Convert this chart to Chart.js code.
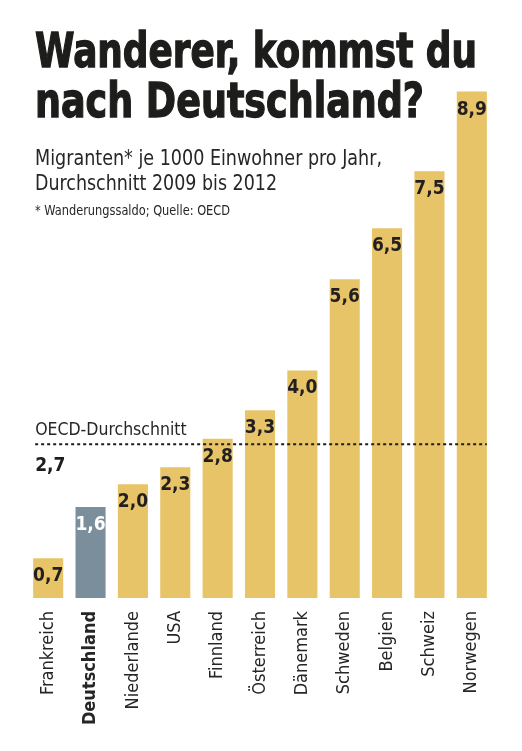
<!DOCTYPE html>
<html lang="de">
<head>
<meta charset="utf-8">
<title>Wanderer, kommst du nach Deutschland?</title>
<script src="https://cdn.jsdelivr.net/npm/chart.js@4.4.1/dist/chart.umd.min.js"></script>
<style>
    html, body { margin: 0; padding: 0; background: #fff; }
    #wrap { position: relative; width: 522px; height: 751px; overflow: hidden; }
    #chart { position: absolute; left: 0; top: 0; }
    .txt { position: absolute; left: 35px; white-space: nowrap; transform-origin: 0 0; color: #1d1d1b; line-height: 1; z-index: 2; }
    .title { font-weight: bold; font-size: 48px; -webkit-text-stroke: 1.3px #1d1d1b; }
    .sub { font-size: 22px; color: #262626; }
    .foot { font-size: 14px; color: #262626; }
</style>
</head>
<body>
<div id="wrap">
    <canvas id="chart" width="522" height="751"></canvas>
    <div class="txt title" data-base="67" data-w="442">Wanderer, kommst du</div>
    <div class="txt title" data-base="117" data-w="389">nach Deutschland?</div>
    <div class="txt sub" data-base="165" data-w="347">Migranten* je 1000 Einwohner pro Jahr,</div>
    <div class="txt sub" data-base="190" data-w="242">Durchschnitt 2009 bis 2012</div>
    <div class="txt foot" data-base="215" data-w="195">* Wanderungssaldo; Quelle: OECD</div>
</div>
<script>
// Data
const countries = ['Frankreich', 'Deutschland', 'Niederlande', 'USA', 'Finnland', 'Österreich',
    'Dänemark', 'Schweden', 'Belgien', 'Schweiz', 'Norwegen'];
const migrants = [0.7, 1.6, 2.0, 2.3, 2.8, 3.3, 4.0, 5.6, 6.5, 7.5, 8.9];
const highlight = 'Deutschland';
const oecdAverage = 2.7;
const oecdLabel = 'OECD-Durchschnitt';

// Colours
const gold = '#e8c468';
const slate = '#7a8e9c';
const ink = '#1d1d1b';

// Font check (pick a narrow face if the system has one)
function hasFont(name) {
    const c = document.createElement('canvas').getContext('2d');
    const probe = 'Wanderer kommst 0123';
    c.font = '40px monospace';
    const w0 = c.measureText(probe).width;
    c.font = `40px "${name}", monospace`;
    return c.measureText(probe).width !== w0;
}
const hasNarrow = hasFont('Liberation Sans Narrow');
const narrow = hasNarrow ? '"Liberation Sans Narrow", "DejaVu Sans Condensed", sans-serif'
                         : '"DejaVu Sans Condensed", sans-serif';
const valueFont = '"DejaVu Sans Condensed", sans-serif';

function fmt(v) {
    return v.toFixed(1).replace('.', ',');
}

// Header text: put on baseline, squeeze to width
function placeText(el) {
    el.style.fontFamily = narrow;
    el.style.transform = 'none';
    el.style.top = '0px';
    const mark = document.createElement('span');
    mark.style.display = 'inline-block';
    mark.style.width = '0';
    mark.style.height = '0';
    el.appendChild(mark);
    const off = mark.getBoundingClientRect().top - el.getBoundingClientRect().top;
    el.removeChild(mark);
    const w = el.getBoundingClientRect().width;
    el.style.top = (Number(el.dataset.base) - off) + 'px';
    el.style.transform = `scaleX(${Number(el.dataset.w) / w})`;
}
document.querySelectorAll('.txt').forEach(placeText);

// Values on top of the bars
const valueLabels = {
    id: 'valueLabels',
    afterDatasetsDraw(chart) {
        const ctx = chart.ctx;
        const meta = chart.getDatasetMeta(0);
        ctx.save();
        ctx.font = `bold 19px ${valueFont}`;
        ctx.textAlign = 'center';
        ctx.textBaseline = 'alphabetic';
        meta.data.forEach((bar, i) => {
            ctx.fillStyle = countries[i] === highlight ? '#ffffff' : '#231f20';
            ctx.fillText(fmt(migrants[i]), bar.x, bar.y + 23);
        });
        ctx.restore();
    }
};

// Dotted OECD average line
const averageLine = {
    id: 'averageLine',
    afterDatasetsDraw(chart) {
        const ctx = chart.ctx;
        const meta = chart.getDatasetMeta(0);
        const first = meta.data[0];
        const last = meta.data[meta.data.length - 1];
        const y = chart.scales.y.getPixelForValue(oecdAverage);
        const x0 = first.x - first.width / 2 + 2;
        const x1 = last.x + last.width / 2;
        ctx.save();
        ctx.strokeStyle = ink;
        ctx.lineWidth = 2;
        ctx.setLineDash([3, 3]);
        ctx.beginPath();
        ctx.moveTo(x0, y);
        ctx.lineTo(x1, y);
        ctx.stroke();
        ctx.setLineDash([]);
        ctx.fillStyle = '#262626';
        ctx.textAlign = 'left';
        ctx.textBaseline = 'alphabetic';
        ctx.font = `${hasNarrow ? 20 : 17.5}px ${narrow}`;
        ctx.fillText(oecdLabel, x0, y - 9);
        ctx.fillStyle = ink;
        ctx.font = `bold 19px ${valueFont}`;
        ctx.fillText(fmt(oecdAverage), x0, y + 27);
        ctx.restore();
    }
};

const tickSize = hasNarrow ? 22 : 18;

new Chart(document.getElementById('chart'), {
    type: 'bar',
    data: {
        labels: countries,
        datasets: [{
            data: migrants,
            backgroundColor: countries.map(c => c === highlight ? slate : gold),
            borderWidth: 0,
            categoryPercentage: 1,
            barPercentage: 0.71
        }]
    },
    options: {
        responsive: false,
        animation: false,
        events: [],
        layout: { padding: { left: 27, right: 29, top: 29, bottom: 0 } },
        plugins: {
            legend: { display: false },
            tooltip: { enabled: false }
        },
        scales: {
            x: {
                grid: { display: false, drawTicks: false },
                border: { display: false },
                afterFit: scale => { scale.height = 153; },
                ticks: {
                    autoSkip: false,
                    minRotation: 90,
                    maxRotation: 90,
                    padding: 13,
                    color: '#262626',
                    font: ctx => ({
                        family: narrow,
                        size: tickSize,
                        weight: countries[ctx.index] === highlight ? 'bold' : 'normal'
                    })
                }
            },
            y: {
                display: false,
                min: 0,
                max: 10
            }
        }
    },
    plugins: [valueLabels, averageLine]
});
</script>
</body>
</html>
